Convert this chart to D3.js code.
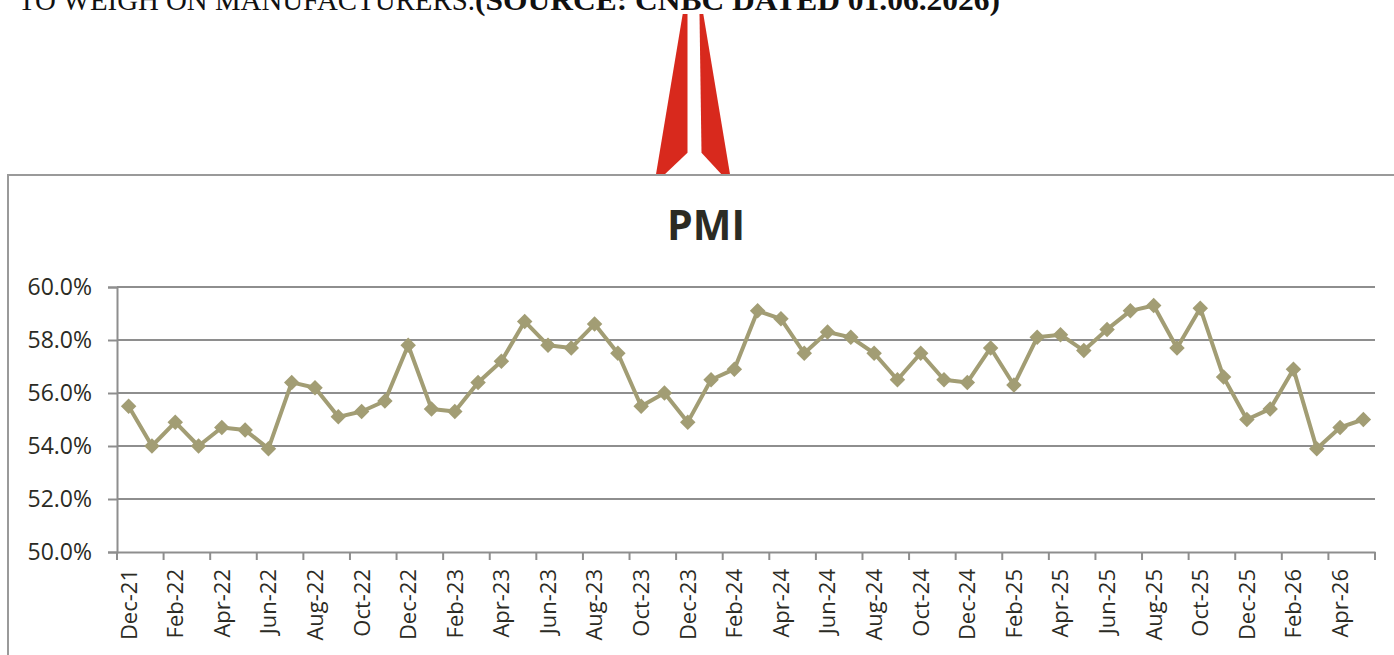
<!DOCTYPE html>
<html>
<head>
<meta charset="utf-8">
<script src="https://cdn.jsdelivr.net/npm/d3@7"></script>
<style>
  html, body { margin: 0; padding: 0; background: #ffffff; overflow: hidden; }
  svg { display: block; }
</style>
</head>
<body>
<script>
// ---- Data ----
const categories = [
  "Dec-21",
  "Jan-22","Feb-22","Mar-22","Apr-22","May-22","Jun-22","Jul-22","Aug-22","Sep-22","Oct-22","Nov-22","Dec-22",
  "Jan-23","Feb-23","Mar-23","Apr-23","May-23","Jun-23","Jul-23","Aug-23","Sep-23","Oct-23","Nov-23","Dec-23",
  "Jan-24","Feb-24","Mar-24","Apr-24","May-24","Jun-24","Jul-24","Aug-24","Sep-24","Oct-24","Nov-24","Dec-24",
  "Jan-25","Feb-25","Mar-25","Apr-25","May-25","Jun-25","Jul-25","Aug-25","Sep-25","Oct-25","Nov-25","Dec-25",
  "Jan-26","Feb-26","Mar-26","Apr-26","May-26"
];
const pmiValues = [
  55.5,
  54.0, 54.9, 54.0, 54.7, 54.6, 53.9, 56.4, 56.2, 55.1, 55.3, 55.7, 57.8,
  55.4, 55.3, 56.4, 57.2, 58.7, 57.8, 57.7, 58.6, 57.5, 55.5, 56.0, 54.9,
  56.5, 56.9, 59.1, 58.8, 57.5, 58.3, 58.1, 57.5, 56.5, 57.5, 56.5, 56.4,
  57.7, 56.3, 58.1, 58.2, 57.6, 58.4, 59.1, 59.3, 57.7, 59.2, 56.6, 55.0,
  55.4, 56.9, 53.9, 54.7, 55.0
];
const yTicks = [50, 52, 54, 56, 58, 60];
const chartTitle = "PMI";
const headerRegular = "TO WEIGH ON MANUFACTURERS.";
const headerBold = "(SOURCE: CNBC DATED 01.06.2026)";

// ---- Layout ----
const W = 1394, H = 655;
const plot = { left: 117, right: 1375, top: 287, bottom: 552 };
const lineColor = "#a29d74";
const gridColor = "#8e8e8e";
const textColor = "#2b2b24";

const svg = d3.select("body").append("svg").attr("width", W).attr("height", H);

// Header text (clipped at top of page, as in the source)
const header = svg.append("text")
  .attr("x", 18).attr("y", 10)
  .attr("font-family", "'Liberation Serif', 'DejaVu Serif', serif")
  .attr("font-size", 30).attr("fill", "#111");
header.append("tspan").text(headerRegular)
  .attr("textLength", 457).attr("lengthAdjust", "spacingAndGlyphs");
header.append("tspan").text(headerBold).attr("font-weight", "bold")
  .attr("textLength", 525).attr("lengthAdjust", "spacingAndGlyphs");

// Red arrow decoration
const arrowRed = "#d8291d";
svg.append("polygon")
  .attr("points", [[682.7,14],[687.5,14],[687.5,152.7],[663,176],[655.7,176]].map(p => p.join(",")).join(" "))
  .attr("fill", arrowRed);
svg.append("polygon")
  .attr("points", [[699.5,14],[703.3,14],[730.3,176],[723,176],[701.5,152.7]].map(p => p.join(",")).join(" "))
  .attr("fill", arrowRed);

// Chart frame
svg.append("rect")
  .attr("x", 8).attr("y", 175).attr("width", W + 20).attr("height", H)
  .attr("fill", "#ffffff").attr("stroke", "#9a9a9a").attr("stroke-width", 2);

// Title
svg.append("text")
  .attr("x", 706).attr("y", 240)
  .attr("text-anchor", "middle")
  .attr("font-family", "'Open Sans', sans-serif")
  .attr("font-weight", "bold")
  .attr("font-size", 41)
  .attr("fill", textColor)
  .text(chartTitle);

// Scales
const x = d3.scaleBand().domain(categories).range([plot.left, plot.right]).padding(0);
const y = d3.scaleLinear().domain([50, 60]).range([plot.bottom, plot.top]);
const cx = d => x(d) + x.bandwidth() / 2;

// Gridlines
svg.append("g").selectAll("line")
  .data(yTicks.filter(t => t !== 50))
  .join("line")
  .attr("x1", plot.left).attr("x2", plot.right)
  .attr("y1", d => y(d)).attr("y2", d => y(d))
  .attr("stroke", gridColor).attr("stroke-width", 2);

// Y axis
const yAxis = svg.append("g")
  .attr("transform", `translate(${plot.left},0)`)
  .call(d3.axisLeft(y).tickValues(yTicks).tickFormat(d => d.toFixed(1) + "%").tickSize(9).tickPadding(16));
yAxis.select(".domain").attr("stroke", gridColor).attr("stroke-width", 2);
yAxis.selectAll(".tick line").attr("stroke", gridColor).attr("stroke-width", 2);
yAxis.selectAll(".tick text")
  .attr("font-family", "'Open Sans', sans-serif").attr("font-size", 23).attr("fill", textColor);

// X axis
const labelCats = categories.filter((c, i) => i % 2 === 0);
const xAxis = svg.append("g")
  .attr("transform", `translate(0,${plot.bottom})`)
  .call(d3.axisBottom(x).tickValues(labelCats).tickSize(0).tickPadding(0));
xAxis.select(".domain").attr("stroke", gridColor).attr("stroke-width", 2);
xAxis.selectAll(".tick text")
  .attr("font-family", "'Open Sans', sans-serif").attr("font-size", 22).attr("fill", textColor)
  .attr("transform", "rotate(-90)")
  .attr("text-anchor", "end")
  .attr("dy", "0.36em")
  .attr("x", -17).attr("y", 0);
// tick marks at band boundaries every two categories
const tickPositions = labelCats.map(c => x(c)).concat([plot.right]);
svg.append("g").selectAll("line")
  .data(tickPositions)
  .join("line")
  .attr("x1", d => d).attr("x2", d => d)
  .attr("y1", plot.bottom).attr("y2", plot.bottom + 8)
  .attr("stroke", gridColor).attr("stroke-width", 2);

// Line
const line = d3.line().x((d, i) => cx(categories[i])).y(d => y(d));
svg.append("path")
  .datum(pmiValues)
  .attr("d", line)
  .attr("fill", "none")
  .attr("stroke", lineColor)
  .attr("stroke-width", 4)
  .attr("stroke-linejoin", "round");

// Diamond markers
svg.append("g").selectAll("path")
  .data(pmiValues)
  .join("path")
  .attr("transform", (d, i) => `translate(${cx(categories[i])},${y(d)}) rotate(45)`)
  .attr("d", d3.symbol().type(d3.symbolSquare).size(120))
  .attr("fill", lineColor);
</script>
</body>
</html>
